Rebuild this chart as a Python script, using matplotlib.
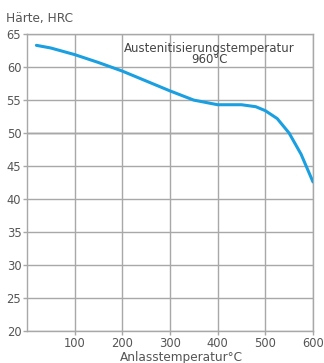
import matplotlib.pyplot as plt

temp = [20, 50, 100, 150, 200, 250, 300, 350, 400, 450, 480, 500, 525, 550, 575, 600]
hrc = [63.3, 62.9, 61.9, 60.7, 59.4, 57.9, 56.4, 55.0, 54.3, 54.3, 54.0, 53.4, 52.2, 50.0, 46.8, 42.6]
xticks = [100, 200, 300, 400, 500, 600]
yticks = [20, 25, 30, 35, 40, 45, 50, 55, 60, 65]

fig = plt.figure(figsize=(3.24, 3.63), dpi=100)
ax = fig.add_axes([0.083, 0.088, 0.883, 0.818])

ax.set_xlim(0, 600)
ax.set_ylim(20, 65)
ax.set_xticks(xticks)
ax.set_yticks(yticks)
ax.grid(True, color='#a8a8a8', linewidth=1.0)
ax.axhline(50, color='#707070', linewidth=1.0, zorder=1)
for s in ax.spines.values():
    s.set_color('#a8a8a8')
    s.set_linewidth(1.0)
ax.tick_params(colors='#a8a8a8', labelcolor='#555555', labelsize=8.3, length=3, width=1, pad=1)

ax.plot(temp, hrc, color='#1a9fe0', linewidth=2.2, solid_capstyle='round', zorder=3)

ax.text(0.638, 0.975, 'Austenitisierungstemperatur\n960°C', transform=ax.transAxes,
        ha='center', va='top', fontsize=8.5, color='#444444', linespacing=0.85)
fig.text(0.02, 0.95, 'Härte, HRC', fontsize=8.7, color='#555555', ha='left', va='center')
fig.text(0.56, 0.016, 'Anlasstemperatur°C', fontsize=8.7, color='#555555', ha='center', va='center')

fig.savefig('out.png', dpi=100)
